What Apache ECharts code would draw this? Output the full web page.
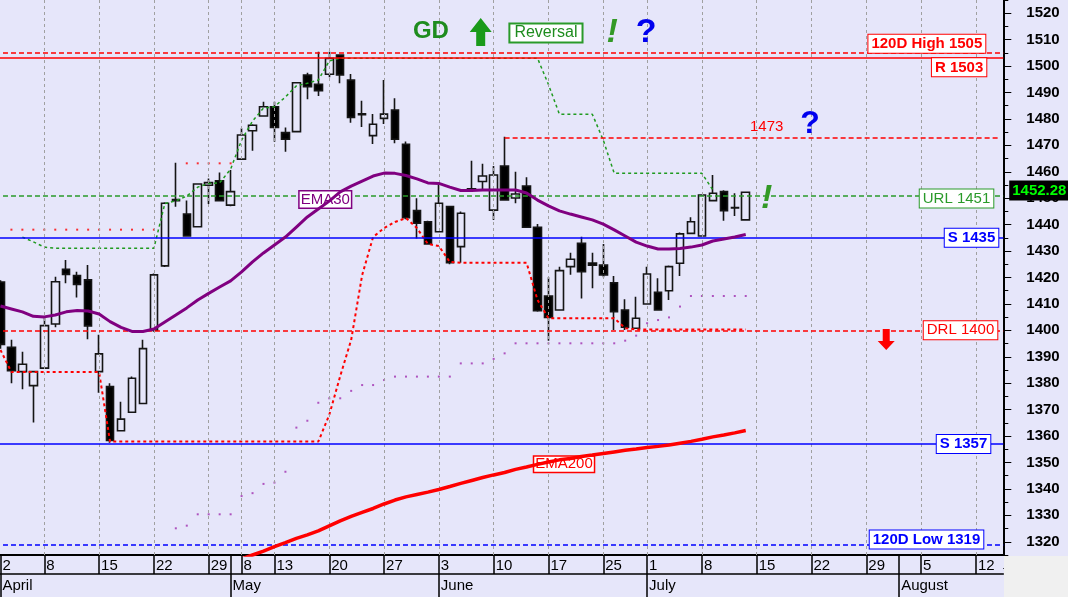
<!DOCTYPE html>
<html>
<head>
<meta charset="utf-8">
<script src="https://cdn.jsdelivr.net/npm/echarts@6/dist/echarts.min.js"></script>
<style>
html,body{margin:0;padding:0;background:#e6e6fa;}
#chart{width:1068px;height:597px;}
</style>
</head>
<body>
<div id="chart"></div>
<script>
// ---------- data ----------
const dates = ['04-02','04-03','04-04','04-05','04-08','04-09','04-10','04-11','04-12',
'04-15','04-16','04-17','04-18','04-19','04-22','04-23','04-24','04-25','04-26',
'04-29','04-30','05-02','05-08','05-09','05-10',
'05-13','05-14','05-15','05-16','05-17','05-20','05-21','05-22','05-23','05-24',
'05-27','05-28','05-29','05-30','05-31','06-03','06-04','06-05','06-06','06-07',
'06-10','06-11','06-12','06-13','06-14','06-17','06-18','06-19','06-20','06-21',
'06-25','06-26','06-27','06-28','07-01','07-02','07-03','07-04','07-05',
'07-08','07-09','07-10','07-11','07-12','07-15','07-16','07-17','07-18','07-19',
'07-22','07-23','07-24','07-25','07-26','07-29','07-30','07-31','08-01','08-02',
'08-05','08-06','08-07','08-08','08-09','08-12','08-13','08-14'];

const weekStarts = ['04-02','04-08','04-15','04-22','04-29','05-08','05-13','05-20','05-27',
'06-03','06-10','06-17','06-25','07-01','07-08','07-15','07-22','07-29','08-05','08-12'];
const monthStarts = {'04-02':'April','05-02':'May','06-03':'June','07-01':'July','08-01':'August'};

const open = [1418.3,1393.6,1384.4,1379.1,1385.7,1402.4,1423.1,1420.7,1419.1,1384.4,1378.7,1362,1369,1372.3,1400.1,1424.4,1449.5,1444,1439.2,1454.9,1456.6,1447.4,1464.8,1475.5,1481.1,1484.6,1474.8,1475.2,1496.6,1493.1,1496.9,1504.2,1494.7,1481.9,1473.7,1480.2,1483.4,1470.4,1445.3,1441.1,1437.3,1446.8,1431.7,1453.6,1456.3,1445.5,1462.2,1450.1,1454.6,1439,1413,1407.7,1424.1,1432.9,1425.5,1424.7,1418,1407.7,1400.8,1410,1414.4,1415,1425.4,1436.7,1435.7,1449.1,1452.5,1446.5,1441.8];
const close = [1394.7,1384.7,1387.2,1384.4,1401.8,1418.4,1421.2,1417.4,1401.7,1391.1,1358.3,1366.4,1381.9,1393.1,1421,1448.1,1449.1,1435.7,1455.4,1455.9,1449.1,1452.5,1473.9,1477.6,1484.6,1476.8,1472.3,1493.7,1492.2,1490.7,1502.9,1496.6,1480.6,1481.6,1478,1481.8,1472.3,1442.6,1440.5,1432.7,1448.1,1425.6,1444.3,1453.3,1458.4,1458.8,1449.3,1451.6,1439,1407.4,1404.9,1422.6,1426.9,1422.2,1424.7,1421,1407.1,1401.2,1404.6,1421.3,1407.7,1424.1,1436.5,1441.1,1451.2,1451.9,1445.3,1446.3,1452.28];
const low = [1393,1380,1377.7,1365.1,1385.5,1401.2,1417.8,1412.4,1396.6,1376.4,1357.5,1361.8,1368.8,1372,1399.5,1424,1446.8,1435.5,1439,1447.8,1448.9,1447,1464.5,1468,1481,1471.4,1467.6,1475,1487.4,1488.7,1495.8,1493.5,1478.6,1476.9,1470.5,1478.1,1470.8,1442,1434.8,1432.5,1437,1425,1425.6,1453,1453.1,1441.8,1449,1448.1,1438.8,1407,1396.1,1407.5,1421,1412.1,1415.9,1420.1,1400.1,1400.1,1400.5,1409.8,1407.5,1411.5,1420.6,1436.5,1435.5,1449,1441.5,1443.3,1441.5];
const high = [1419,1396.4,1391.9,1384.6,1405.2,1420.3,1426.6,1422.2,1424.7,1398.3,1380,1373,1382.5,1396.4,1421.5,1448.5,1463.4,1449.1,1455.6,1457.5,1459.7,1460.7,1476.5,1478,1486.5,1486.5,1476.8,1494,1497.5,1505.4,1505.4,1504.5,1497,1486.9,1481.9,1494.7,1487.8,1471.5,1450,1441.5,1455,1447,1445,1464.2,1463,1462.2,1473.3,1460,1457.9,1440.2,1420.1,1424.1,1429.4,1435.4,1429.4,1432.7,1420.6,1411.8,1412.7,1424.1,1419.7,1424.5,1437,1442.8,1451.5,1458.8,1453,1451.9,1452.5];

const ema30 = [1409.2,1408.1,1407,1405.3,1405.1,1405.8,1407,1407.5,1407.3,1406.2,1403.3,1401.1,1399.6,1399.6,1400.5,1403.2,1405.8,1408.5,1411.5,1414,1416.4,1418.7,1422.1,1425.9,1429.3,1432.3,1435.3,1439.1,1442.9,1445.9,1448.9,1452.4,1454.6,1456.5,1458.4,1459.5,1459.4,1458.6,1457.3,1455.8,1455.6,1454.2,1452.9,1452.9,1453.1,1453.1,1453.1,1453.1,1452,1449.3,1447.1,1445.2,1444,1442.9,1441.8,1440.2,1438,1435.7,1433.4,1431.9,1430.8,1430.8,1431,1431.5,1432.3,1433.8,1434.6,1435.3,1436.3];
const ema200 = [null,null,null,null,null,null,null,null,null,null,null,null,null,null,null,null,null,null,null,null,1310.5,1312,1313.5,1315,1316.5,1318.2,1319.7,1321.3,1322.6,1324.1,1326,1327.9,1329.6,1331.1,1332.6,1334.3,1335.8,1337,1337.9,1338.8,1339.8,1340.9,1342.1,1343.2,1344.3,1345.3,1346.2,1347.4,1348.3,1349.3,1350.2,1351,1351.5,1352.3,1352.8,1353.4,1354,1354.6,1355.1,1355.7,1356.1,1356.6,1357.3,1358,1358.8,1359.7,1360.4,1361.2,1362.1];
const upperStop = [null,null,1435.3,1433.5,1431.5,1431.1,1431.1,1431.1,1431.1,1431.1,1431.1,1431.1,1431.1,1431.1,1431.1,1448,1449,1450.8,1454.2,1455.6,1455.8,1461,1472,1479.2,1484.1,1484.6,1488.3,1492.5,1493.5,1494.7,1501.9,1503,1503,1503,1503,1503,1503,1503,1503,1503,1503,1503,1503,1503,1503,1503,1503,1503,1503,1503,1493,1481.8,1481.8,1481.8,1481.8,1472,1459.4,1459.4,1459.4,1459.4,1459.4,1459.4,1459.4,1459.4,1459.4,1453.1,null,null,null];
const lowerStop = [1392.6,1384.2,1384.2,1384.2,1384.2,1384.2,1384.2,1384.2,1384.2,1384.2,1357.9,1357.9,1357.9,1357.9,1357.9,1357.9,1357.9,1357.9,1357.9,1357.9,1357.9,1357.9,1357.9,1357.9,1357.9,1357.9,1357.9,1357.9,1357.9,1357.9,1368,1382.7,1396.4,1420.9,1435.3,1438.7,1441,1442.5,1438.7,1432.7,1431.9,1425.9,1425.6,1425.6,1425.6,1425.6,1425.6,1425.6,1425.6,1411.5,1404.6,1404.6,1404.6,1404.6,1404.6,1404.6,1404.6,1400.8,1400.3,1400.3,1400.3,1400.3,1400.3,1400.3,1400.3,1400.3,1400.3,1400.3,1400.3];
const supportDots = [null,null,null,null,null,null,null,null,null,null,null,null,null,null,null,null,1325.1,1326.1,1330.4,1330.4,1330.4,1330.4,1337.3,1338.4,1341.9,1342.4,1346.5,1363.2,1365.8,1372.6,1374.3,1374.3,1377.1,1379.3,1379.3,1381.2,1382.5,1382.5,1382.5,1382.5,1382.5,1382.5,1387.5,1387.5,1387.5,1389.2,1391.3,1395.1,1395.1,1395.1,1395.1,1395.1,1395.1,1395.1,1395.1,1395.1,1395.1,1396.1,1398,1402.7,1403.9,1404.9,1409,1413,1413,1413,1413,1413,1413];
const highDots = [null,1438.1,1438.1,1438.1,1438.1,1438.1,1438.1,1438.1,1438.1,1438.1,1438.1,1438.1,1438.1,1438.1,1438.1,null,null,1463.2,1463.2,1463.2,1463.2,1463.2];

const levelNames  = ['120D High','R','URL','S','DRL','S','120D Low'];
const levelValues = [1505,1503,1451,1435,1400,1357,1319];
const pivotHigh = 1473;
const pivotStart = '06-11';
const lastClose = 1452.28;
const yTickMin = 1315, yTickMax = 1525;

// ---------- styling ----------
const FONT = "'Liberation Sans', Arial, sans-serif";
const RED = '#ff0000', BLUE = '#0000ff', GREEN = '#2a9a2a', PURPLE = '#800080';
const BG = '#e6e6fa';
const BAND = 10.96;
const GRID_LEFT = 0.46 - BAND / 2;
const GRID_RIGHT = 1068 - (GRID_LEFT + BAND * dates.length);
const GRID_BOTTOM = 42;
const PX_PER_UNIT = (597 - GRID_BOTTOM) / (yTickMax - yTickMin);

const weekSet = new Set(weekStarts);
const tickSet = new Set(weekStarts.concat(Object.keys(monthStarts)));
const monthSet = new Set(Object.keys(monthStarts));

const levelStyle = [
  {color: RED,   type: [5, 3], bold: true,  pos: 'insideEndTop',    dist: [18, 0]},
  {color: RED,   type: 'solid', bold: true, pos: 'insideEndBottom', dist: [17, 0]},
  {color: GREEN, type: [5, 3], bold: false, pos: 'insideEndBottom', dist: [10, -6]},
  {color: BLUE,  type: 'solid', bold: true, pos: 'insideEnd',       dist: [5, 0]},
  {color: RED,   type: [5, 3], bold: false, pos: 'insideEnd',       dist: [6, 0]},
  {color: BLUE,  type: 'solid', bold: true, pos: 'insideEnd',       dist: [13, 0]},
  {color: BLUE,  type: [5, 3], bold: true,  pos: 'insideEndTop',    dist: [20, -4]}
];

const levelLines = levelValues.map((v, i) => ({
  yAxis: v,
  lineStyle: {color: levelStyle[i].color, type: levelStyle[i].type, width: 1.5},
  label: {
    show: true,
    formatter: levelNames[i] + ' ' + v,
    position: levelStyle[i].pos,
    distance: levelStyle[i].dist,
    color: levelStyle[i].color,
    fontWeight: levelStyle[i].bold ? 'bold' : 'normal',
    fontSize: 15, fontFamily: FONT, lineHeight: 17,
    backgroundColor: '#ffffff', borderColor: levelStyle[i].color, borderWidth: 1,
    padding: [1, 3, 0, 3]
  }
}));
levelLines.push([
  {coord: [pivotStart, pivotHigh], lineStyle: {color: RED, type: [5, 3], width: 1.5}, label: {show: false}},
  {coord: [dates[dates.length - 1], pivotHigh]}
]);

function textMark(slot, price, text, style, offset) {
  return {
    coord: [dates[slot], price], symbol: 'circle', symbolSize: 1,
    itemStyle: {color: 'rgba(0,0,0,0)'},
    label: Object.assign({show: true, position: 'inside', formatter: text, fontFamily: FONT, offset: offset || [0, 0]}, style)
  };
}
function shapeMark(slot, price, path, size, color, offset) {
  return {
    coord: [dates[slot], price], symbol: path, symbolSize: size, symbolOffset: offset || [0, 0],
    itemStyle: {color: color}, label: {show: false}
  };
}

const annotations = [
  textMark(39, 1513.1, 'GD', {fontSize: 24, fontWeight: 'bold', color: '#1e8c1e'}, [3, 0]),
  shapeMark(44, 1512.9, 'path://M11,0 L22,14 L15.5,14 L15.5,28 L6.5,28 L6.5,14 L0,14 Z', [22, 28], '#1a9a1a', [-2, 0]),
  textMark(50, 1512.5, 'Reversal', {fontSize: 16, color: '#1e8c1e', backgroundColor: '#ffffff',
    borderColor: '#2a9a2a', borderWidth: 2, padding: [1, 4, 0, 4]}, [-2.5, 0]),
  textMark(56, 1512.7, '!', {fontSize: 34, fontWeight: 'bold', fontStyle: 'italic', color: '#339926'}, [-2, 0]),
  textMark(59, 1512.7, '?', {fontSize: 34, fontWeight: 'bold', color: '#0000ee'}, [-1, 0]),
  textMark(74, 1478.1, '?', {fontSize: 32, fontWeight: 'bold', color: '#0000ee'}, [-1.5, 0]),
  textMark(70, 1449.7, '!', {fontSize: 34, fontWeight: 'bold', fontStyle: 'italic', color: '#339926'}, [-1, 0]),
  textMark(70, 1477, String(pivotHigh), {fontSize: 15, color: RED}, [-1, 0]),
  shapeMark(81, 1396.5, 'path://M5,0 L12,0 L12,12 L17,12 L8.5,21 L0,12 L5,12 Z', [17, 21], RED, [-2, 0]),
  textMark(30, 1449.5, 'EMA30', {fontSize: 15, color: PURPLE, backgroundColor: '#ffffff',
    borderColor: PURPLE, borderWidth: 1.5, padding: [1, 1, 0, 1]}, [-4, 0]),
  textMark(51, 1349.3, 'EMA200', {fontSize: 15, color: RED, backgroundColor: '#ffffff',
    borderColor: RED, borderWidth: 1.5, padding: [0, 1, 0, 1]}, [4.6, 0]),
  textMark(dates.length - 1, lastClose, lastClose.toFixed(2), {fontSize: 15, fontWeight: 'bold', color: '#00ff00',
    backgroundColor: '#000000', padding: [3, 3, 2, 3]}, [41.5, -1.7])
];

const chart = echarts.init(document.getElementById('chart'), null, {renderer: 'canvas'});
chart.setOption({
  animation: false,
  backgroundColor: BG,
  textStyle: {fontFamily: FONT},
  grid: [
    {left: GRID_LEFT, right: GRID_RIGHT, top: 0, bottom: GRID_BOTTOM, outerBoundsMode: 'none', containLabel: false},
    {left: GRID_LEFT, right: GRID_RIGHT, top: -5 * PX_PER_UNIT, bottom: GRID_BOTTOM - 5 * PX_PER_UNIT, outerBoundsMode: 'none', containLabel: false}
  ],
  xAxis: [
    {
      type: 'category', gridIndex: 0, data: dates, position: 'bottom', boundaryGap: true,
      axisLine: {show: true, lineStyle: {color: '#000', width: 2}},
      axisTick: {show: true, alignWithLabel: true, length: 19, interval: (i, v) => tickSet.has(v), lineStyle: {color: '#000', width: 1.5}},
      axisLabel: {show: true, interval: (i, v) => weekSet.has(v), formatter: v => String(parseInt(v.slice(3), 10)),
        align: 'left', padding: [0, 0, 0, 2], margin: 3, fontSize: 15, color: '#000', fontFamily: FONT},
      splitLine: {show: false}
    },
    {
      type: 'category', gridIndex: 0, data: dates, position: 'bottom', offset: 19, boundaryGap: true,
      axisLine: {show: true, lineStyle: {color: '#000', width: 1.5}},
      axisTick: {show: true, alignWithLabel: true, length: 23, interval: (i, v) => monthSet.has(v), lineStyle: {color: '#000', width: 1.5}},
      axisLabel: {show: true, interval: (i, v) => monthSet.has(v), formatter: v => monthStarts[v] || '',
        align: 'left', padding: [0, 0, 0, 2], margin: 4, fontSize: 15, color: '#000', fontFamily: FONT},
      splitLine: {show: false}
    },
    {type: 'category', gridIndex: 1, data: dates, show: false}
  ],
  yAxis: [
    {
      type: 'value', gridIndex: 0, position: 'right', min: yTickMin, max: yTickMax, interval: 5,
      axisLine: {show: true, lineStyle: {color: '#000', width: 2}},
      axisTick: {show: true, length: 5, lineStyle: {color: '#000', width: 1}},
      axisLabel: {show: false}, splitLine: {show: false}
    },
    {
      type: 'value', gridIndex: 1, position: 'right', min: yTickMin - 5, max: yTickMax + 5, interval: 10,
      axisLine: {show: false},
      axisTick: {show: true, length: 8, lineStyle: {color: '#000', width: 1}},
      axisLabel: {show: true, margin: 23, fontSize: 15, fontWeight: 'bold', color: '#000', fontFamily: FONT,
        formatter: v => (v >= yTickMin + 5 && v <= yTickMax - 5) ? String(v) : ''},
      splitLine: {show: false}
    }
  ],
  series: [
    {
      name: 'grid', type: 'line', data: [], z: 1, silent: true,
      markLine: {silent: true, symbol: 'none', animation: false, label: {show: false},
        lineStyle: {color: '#a0a0a0', type: [3, 3], width: 1},
        data: weekStarts.slice(1).map(d => ({xAxis: d}))}
    },
    {
      name: 'levels', type: 'line', data: [], z: 4, silent: true,
      markLine: {silent: true, symbol: 'none', animation: false, data: levelLines}
    },
    {
      name: 'price', type: 'candlestick', z: 3, barWidth: 8, silent: true,
      data: open.map((o, i) => [o, close[i], low[i], high[i]]),
      itemStyle: {color: 'transparent', color0: '#000', borderColor: '#151515', borderColor0: '#151515', borderWidth: 1.6}
    },
    {
      name: 'EMA200', type: 'line', data: ema200, z: 5, symbol: 'none', silent: true,
      lineStyle: {color: RED, width: 3.5}
    },
    {
      name: 'EMA30', type: 'line', data: ema30, z: 6, symbol: 'none', silent: true,
      lineStyle: {color: PURPLE, width: 3}
    },
    {
      name: 'upperStop', type: 'line', data: upperStop, z: 4, symbol: 'none', silent: true,
      lineStyle: {color: '#1f9a1f', width: 1.5, type: [3, 3]}
    },
    {
      name: 'lowerStop', type: 'line', data: lowerStop, z: 4, symbol: 'none', silent: true,
      lineStyle: {color: RED, width: 2, type: [3, 3]}
    },
    {
      name: 'supportDots', type: 'scatter', data: supportDots, z: 4, symbol: 'rect', symbolSize: 2, silent: true,
      itemStyle: {color: '#a030b0'}
    },
    {
      name: 'highDots', type: 'scatter', data: highDots, z: 4, symbol: 'rect', symbolSize: 2, silent: true,
      itemStyle: {color: RED}
    },
    {
      name: 'notes', type: 'scatter', data: [], z: 8, silent: true,
      markPoint: {silent: true, animation: false, data: annotations}
    }
  ],
  graphic: [
    {type: 'rect', right: 0, bottom: 0, z: 100, shape: {width: 64, height: 41}, style: {fill: '#f0f0f0'}}
  ]
});
</script>
</body>
</html>
